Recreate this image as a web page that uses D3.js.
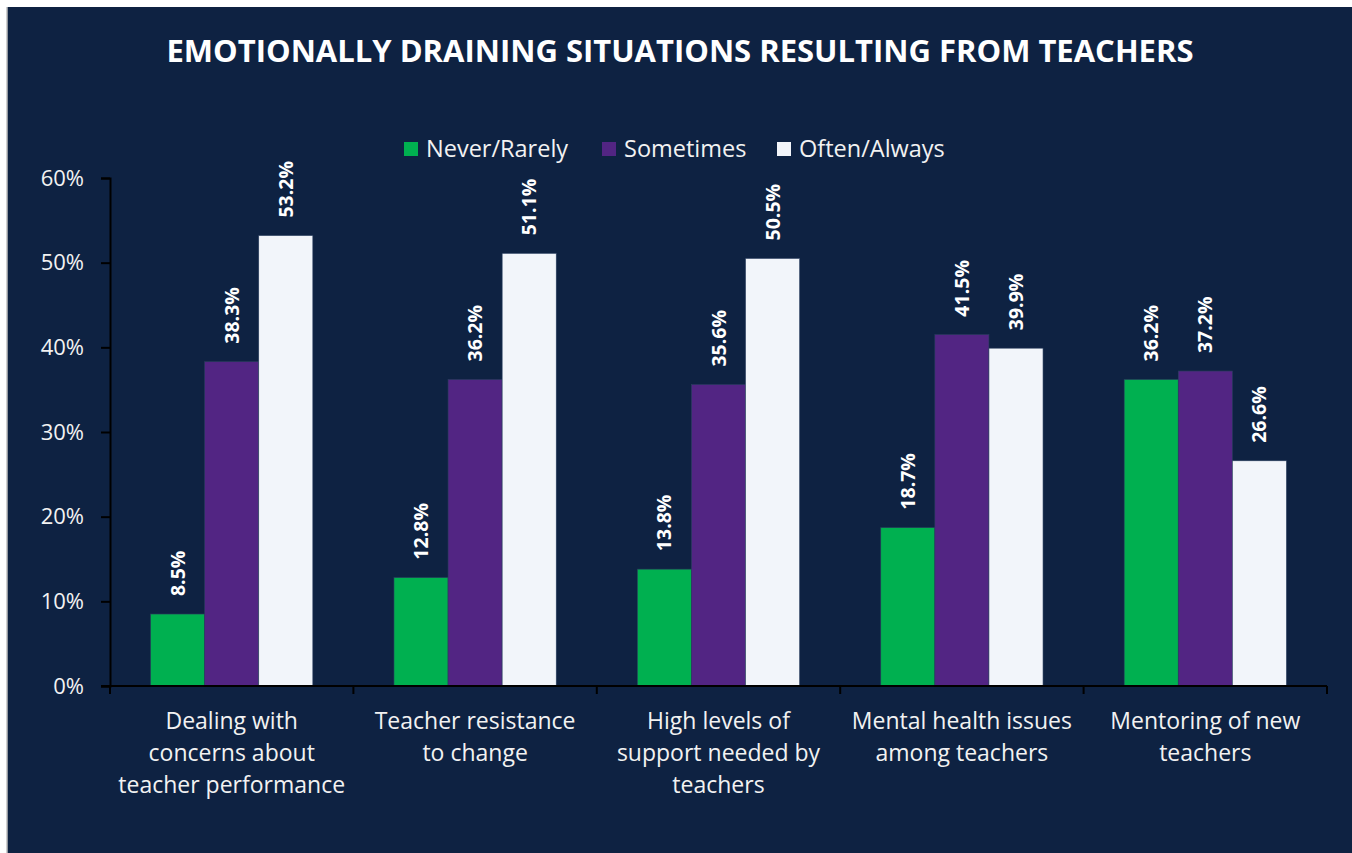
<!DOCTYPE html>
<html>
<head>
<meta charset="utf-8">
<script src="https://cdn.jsdelivr.net/npm/d3@7"></script>
<style>
  body { margin: 0; background: #ffffff; }
  svg { display: block; }
</style>
</head>
<body>
<svg id="canvas" width="1352" height="853"></svg>
<script>
// chart data
var categories = [
  ["Dealing with", "concerns about", "teacher performance"],
  ["Teacher resistance", "to change"],
  ["High levels of", "support needed by", "teachers"],
  ["Mental health issues", "among teachers"],
  ["Mentoring of new", "teachers"]
];
var seriesNames = ["Never/Rarely", "Sometimes", "Often/Always"];
var neverRarely = [8.5, 12.8, 13.8, 18.7, 36.2];
var sometimes = [38.3, 36.2, 35.6, 41.5, 37.2];
var oftenAlways = [53.2, 51.1, 50.5, 39.9, 26.6];
var yTicks = [0, 10, 20, 30, 40, 50, 60];

var colors = ["#00B050", "#522583", "#F2F5FA"];
var bg = "#0E2242";
var font = "'Open Sans', sans-serif";

var svg = d3.select("#canvas");
var width = +svg.attr("width");
var height = +svg.attr("height");

// dark panel
svg.append("rect")
  .attr("x", 7).attr("y", 7)
  .attr("width", width - 7).attr("height", height - 7)
  .style("fill", bg);
svg.append("line")
  .attr("x1", 7).attr("x2", 7).attr("y1", 7).attr("y2", height)
  .style("stroke", "#bfbfbf").style("stroke-width", 1.5);

// title
svg.append("text")
  .attr("x", 680).attr("y", 62)
  .attr("text-anchor", "middle")
  .style("font-family", font)
  .style("font-weight", "bold")
  .style("font-size", "31px")
  .style("fill", "#ffffff")
  .text("EMOTIONALLY DRAINING SITUATIONS RESULTING FROM TEACHERS");

// scales
var plotLeft = 110, plotRight = 1327, plotTop = 178, plotBottom = 686;

var x0 = d3.scaleBand()
  .domain(d3.range(categories.length))
  .range([plotLeft, plotRight])
  .padding(0);

var x1 = d3.scaleBand()
  .domain(seriesNames)
  .range([x0.bandwidth() / 6, x0.bandwidth() * 5 / 6])
  .padding(0);

var y = d3.scaleLinear()
  .domain([0, 60])
  .range([plotBottom, plotTop]);

// table built from the series arrays
var table = categories.map(function(c, i) {
  return [
    {s: seriesNames[0], v: neverRarely[i], c: 0},
    {s: seriesNames[1], v: sometimes[i], c: 1},
    {s: seriesNames[2], v: oftenAlways[i], c: 2}
  ];
});

// bars
var groups = svg.selectAll("g.group")
  .data(table)
  .enter().append("g")
  .attr("class", "group")
  .attr("transform", function(d, i) { return "translate(" + x0(i) + ",0)"; });

groups.selectAll("rect")
  .data(function(d) { return d; })
  .enter().append("rect")
  .attr("x", function(d) { return x1(d.s); })
  .attr("y", function(d) { return y(d.v); })
  .attr("width", x1.bandwidth())
  .attr("height", function(d) { return y(0) - y(d.v); })
  .style("fill", function(d) { return colors[d.c]; })
  .style("stroke", "#2a3f5f")
  .style("stroke-width", 0.6);

// value labels, rotated
groups.selectAll("text.val")
  .data(function(d) { return d; })
  .enter().append("text")
  .attr("class", "val")
  .attr("transform", function(d) {
    return "translate(" + (x1(d.s) + x1.bandwidth() / 2 + 7) + "," + (y(d.v) - 18) + ") rotate(-90)";
  })
  .attr("text-anchor", "start")
  .style("font-family", font)
  .style("font-weight", "bold")
  .style("font-size", "19.5px")
  .style("fill", "#ffffff")
  .text(function(d) { return d.v.toFixed(1) + "%"; });

// y axis
var yAxis = d3.axisLeft(y)
  .tickValues(yTicks)
  .tickSize(9)
  .tickPadding(17)
  .tickFormat(function(d) { return d + "%"; });

var yg = svg.append("g")
  .attr("transform", "translate(" + plotLeft + ",0)")
  .call(yAxis);
yg.select(".domain").style("stroke", "#000000").style("stroke-width", 2);
yg.selectAll(".tick line").style("stroke", "#000000").style("stroke-width", 2);
yg.selectAll(".tick text")
  .style("font-family", font)
  .style("font-size", "22px")
  .style("fill", "#F2F2F2");

// x axis line with category boundary ticks
var bounds = d3.range(categories.length + 1).map(function(i) {
  return i < categories.length ? x0(i) : plotRight;
});
svg.append("line")
  .attr("x1", plotLeft - 9).attr("x2", plotRight)
  .attr("y1", plotBottom).attr("y2", plotBottom)
  .style("stroke", "#000000").style("stroke-width", 2);
svg.selectAll("line.xtick")
  .data(bounds)
  .enter().append("line")
  .attr("class", "xtick")
  .attr("x1", function(d) { return d; }).attr("x2", function(d) { return d; })
  .attr("y1", plotBottom).attr("y2", plotBottom + 8)
  .style("stroke", "#000000").style("stroke-width", 2);

// category labels
var catText = svg.selectAll("text.cat")
  .data(categories)
  .enter().append("text")
  .attr("class", "cat")
  .attr("text-anchor", "middle")
  .style("font-family", font)
  .style("font-size", "23px")
  .style("fill", "#F2F2F2");

catText.selectAll("tspan")
  .data(function(d, i) { return d.map(function(t) { return {t: t, i: i}; }); })
  .enter().append("tspan")
  .attr("x", function(d) { return x0(d.i) + x0.bandwidth() / 2; })
  .attr("y", function(d, j) { return 729 + j * 32; })
  .text(function(d) { return d.t; });

// legend
var legendX = [404, 602, 777];
var legend = svg.selectAll("g.legend")
  .data(seriesNames)
  .enter().append("g")
  .attr("class", "legend")
  .attr("transform", function(d, i) { return "translate(" + legendX[i] + ",142)"; });

legend.append("rect")
  .attr("width", 14).attr("height", 14)
  .style("fill", function(d, i) { return colors[i]; });

legend.append("text")
  .attr("x", 22).attr("y", 15)
  .style("font-family", font)
  .style("font-size", "23.5px")
  .style("fill", "#F2F2F2")
  .text(function(d) { return d; });
</script>
</body>
</html>
